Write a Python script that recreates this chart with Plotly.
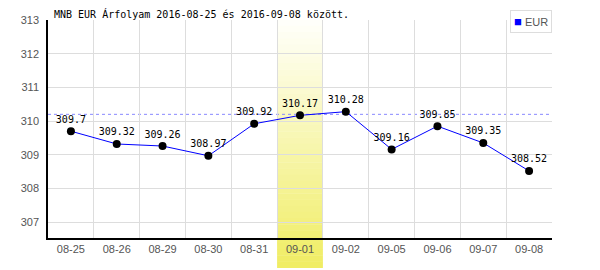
import plotly.graph_objects as go

dates = ["08-25", "08-26", "08-29", "08-30", "08-31", "09-01", "09-02", "09-05", "09-06", "09-07", "09-08"]
eur = [309.7, 309.32, 309.26, 308.97, 309.92, 310.17, 310.28, 309.16, 309.85, 309.35, 308.52]
ref_line = 310.2
highlight = "09-01"
title = "MNB EUR Árfolyam 2016-08-25 és 2016-09-08 között."

fig = go.Figure()
fig.add_trace(go.Scatter(
    x=dates, y=eur, mode="lines+markers+text",
    line=dict(color="#0000ff", width=1),
    marker=dict(color="#000000", size=8),
    text=[f"{v:g}" for v in eur], textposition="top center",
    textfont=dict(family="DejaVu Sans Mono", size=10, color="#000000"),
    cliponaxis=False, showlegend=False,
))

shapes = []
# gradient highlight band
hi = dates.index(highlight)
n = 40
top, bot = 1.0, -30 / 218
c0 = (255, 255, 250)
c1 = (240, 237, 100)
for i in range(n):
    t = i / (n - 1)
    col = tuple(round(c0[k] + (c1[k] - c0[k]) * t) for k in range(3))
    y_hi = top + (bot - top) * i / n
    y_lo = top + (bot - top) * (i + 1) / n
    shapes.append(dict(type="rect", xref="x", yref="paper", x0=hi - 0.5, x1=hi + 0.5,
                       y0=y_lo, y1=y_hi + 0.002, fillcolor="rgb(%d,%d,%d)" % col,
                       line=dict(width=0), layer="between"))
shapes.append(dict(type="line", xref="paper", yref="y", x0=0, x1=1, y0=ref_line, y1=ref_line,
                   line=dict(color="#8888ff", width=1, dash="3px,3px"), layer="between"))

fig.update_layout(
    width=600, height=270,
    margin=dict(l=48, r=48, t=20, b=32),
    paper_bgcolor="white", plot_bgcolor="white",
    shapes=shapes,
    xaxis=dict(type="category", tickson="boundaries", range=[-0.5, 10.5],
               showgrid=True, gridcolor="#dddddd", gridwidth=1,
               showline=True, linecolor="#000000", linewidth=1.5, ticks="",
               tickfont=dict(family="Liberation Sans", size=11, color="#555555"),
               zeroline=False, fixedrange=True),
    yaxis=dict(range=[306.53, 313], dtick=1, tick0=307,
               showgrid=True, gridcolor="#dddddd", gridwidth=1,
               showline=True, linecolor="#000000", linewidth=1.5, ticks="",
               ticklabelstandoff=5,
               tickfont=dict(family="Liberation Sans", size=11, color="#555555"),
               zeroline=False),
    annotations=[
        dict(text=title, xref="paper", yref="paper", x=4 / 504, y=1 + 6 / 218,
             xanchor="left", yanchor="middle", showarrow=False,
             font=dict(family="DejaVu Sans Mono", size=10, color="#000000")),
        dict(text="<span style='color:#0000ff;font-size:13px'>■</span> EUR", xref="paper", yref="paper",
             x=1, y=1 + 10 / 218, xanchor="right", yanchor="top", showarrow=False,
             bordercolor="#dddddd", borderwidth=1, borderpad=3, bgcolor="white",
             font=dict(family="Liberation Sans", size=11, color="#555555")),
    ],
)

fig.write_html("out.html")
